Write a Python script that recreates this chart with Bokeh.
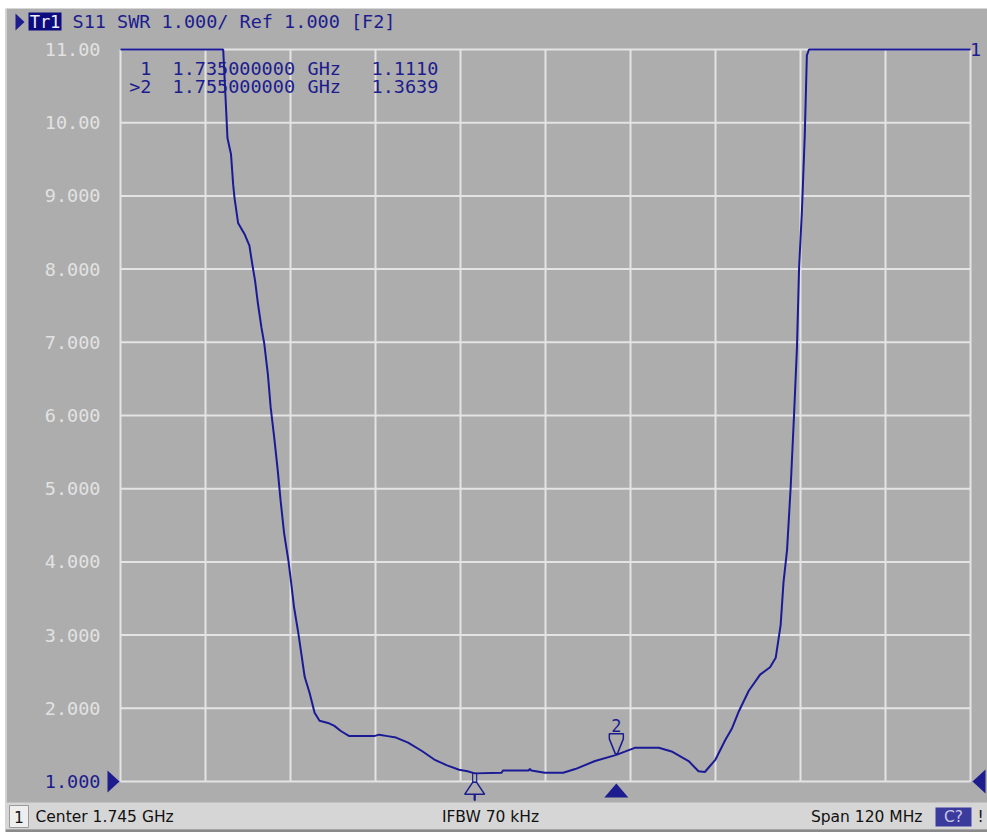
import numpy as np
from bokeh.plotting import figure
from bokeh.models import Range1d, Label, BoxAnnotation, PolyAnnotation
from bokeh.embed import file_html
from bokeh.resources import INLINE

# ---------------- data ----------------
f_start_ghz = 1.685
f_stop_ghz = 1.805
ifbw_khz = 70
y_ref = 1.0
y_top = 11.0

y_ticks = [1, 2, 3, 4, 5, 6, 7, 8, 9, 10, 11]
y_tick_labels = ["1.000", "2.000", "3.000", "4.000", "5.000", "6.000",
                 "7.000", "8.000", "9.000", "10.00", "11.00"]

freq_ghz = [1.6850, 1.6995, 1.6999, 1.7001, 1.7006, 1.7009, 1.7011, 1.7016, 1.7025, 1.7032,
            1.7036, 1.7040, 1.7044, 1.7049, 1.7053, 1.7058, 1.7062, 1.7067, 1.7072, 1.7076,
            1.7081, 1.7087, 1.7091, 1.7095, 1.7101, 1.7106, 1.7110, 1.7117, 1.7124, 1.7131,
            1.7143, 1.7152, 1.7161, 1.7173, 1.7208, 1.7215, 1.7227, 1.7239, 1.7256, 1.7275,
            1.7293, 1.7311, 1.7328, 1.7340, 1.7350, 1.7388, 1.7390, 1.7426, 1.7428, 1.7430,
            1.7449, 1.7475, 1.7492, 1.7520, 1.7550, 1.7576, 1.7610, 1.7628, 1.7652, 1.7666,
            1.7675, 1.7690, 1.7704, 1.7713, 1.7723, 1.7737, 1.7753, 1.7767, 1.7775, 1.7782,
            1.7786, 1.7791, 1.7796, 1.7801, 1.7805, 1.7808, 1.7812, 1.7816, 1.7819, 1.7822,
            1.8050]
swr = [11.0, 11.0, 10.20, 9.79, 9.57, 9.16, 8.97, 8.63, 8.48, 8.32,
       8.07, 7.84, 7.53, 7.20, 6.98, 6.57, 6.11, 5.70, 5.25, 4.84,
       4.39, 4.02, 3.71, 3.38, 3.03, 2.70, 2.43, 2.21, 1.94, 1.83,
       1.80, 1.76, 1.69, 1.62, 1.62, 1.64, 1.62, 1.60, 1.53, 1.42,
       1.30, 1.22, 1.16, 1.14, 1.111, 1.12, 1.15, 1.15, 1.17, 1.15,
       1.12, 1.12, 1.17, 1.28, 1.3639, 1.46, 1.46, 1.41, 1.28, 1.14,
       1.13, 1.30, 1.57, 1.72, 1.96, 2.24, 2.46, 2.56, 2.69, 3.14,
       3.72, 4.16, 5.00, 6.03, 6.93, 8.02, 8.79, 9.82, 10.92, 11.0,
       11.0]

marker_ids = [1, 2]
marker_freq_ghz = [1.735, 1.755]
marker_swr = [1.1110, 1.3639]
active_marker = 2

# ---------------- style / layout ----------------
PANEL = "#ADADAD"
GRID = "#E4E4E4"
TRACE = "#1A1A96"
BLUE = "#1C1C8E"
TICK_TEXT = "#E2E2E2"
STATUS_BG = "#D6D6D6"
MONO = "DejaVu Sans Mono"
SANS = "DejaVu Sans"
MONO_SIZE = "18.5px"

W, H = 987, 832
X0, Y0 = 5, 8                         # white page border left / top
PL, PT, PW, PH = 120, 49, 850, 732    # plot area in page pixels

def fx(px):
    return f_start_ghz + (px - PL) * (f_stop_ghz - f_start_ghz) / PW

def fy(py):
    return y_top - (py - PT) * (y_top - y_ref) / PH

def dx(n):
    return n * (f_stop_ghz - f_start_ghz) / PW

def dy(n):
    return n * (y_top - y_ref) / PH

p = figure(width=W, height=H,
           x_range=Range1d(fx(X0), fx(W)), y_range=Range1d(fy(H), fy(Y0)),
           x_axis_location=None, y_axis_location=None,
           output_backend="svg", toolbar_location=None, tools="",
           min_border_left=X0, min_border_right=0, min_border_top=Y0, min_border_bottom=0,
           background_fill_color=PANEL, border_fill_color="white",
           outline_line_color=None)
p.grid.visible = False

# left light edge line
p.add_layout(BoxAnnotation(left=fx(X0), right=fx(X0 + 1.5), fill_color="#D0D0D0",
                           fill_alpha=1, line_alpha=0))

# ---- grid (through data scales) ----
x_grid = list(np.linspace(f_start_ghz, f_stop_ghz, 11))
p.segment(x0=x_grid, y0=[y_ref] * len(x_grid), x1=x_grid, y1=[y_top] * len(x_grid),
          line_color=GRID, line_width=2)
p.segment(x0=[f_start_ghz] * len(y_ticks), y0=y_ticks, x1=[f_stop_ghz] * len(y_ticks), y1=y_ticks,
          line_color=GRID, line_width=2)

# ---- y tick labels ----
for t, lab in zip(y_ticks, y_tick_labels):
    p.add_layout(Label(x=f_start_ghz - dx(20), y=t, text=lab, text_font=MONO,
                       text_font_size=MONO_SIZE,
                       text_color=BLUE if t == y_ref else TICK_TEXT,
                       text_align="right", text_baseline="middle"))

# ---- trace ----
p.line(freq_ghz, swr, line_color=TRACE, line_width=2)

# reference level triangles
p.add_layout(PolyAnnotation(xs=[f_start_ghz - dx(13), f_start_ghz - dx(1), f_start_ghz - dx(13)],
                            ys=[y_ref + dy(11), y_ref, y_ref - dy(11)],
                            fill_color=BLUE, fill_alpha=1, line_alpha=0))
p.add_layout(PolyAnnotation(xs=[f_stop_ghz + dx(15), f_stop_ghz + dx(2), f_stop_ghz + dx(15)],
                            ys=[y_ref + dy(12), y_ref, y_ref - dy(12)],
                            fill_color=BLUE, fill_alpha=1, line_alpha=0))

# ---- header ----
p.add_layout(PolyAnnotation(xs=[fx(15), fx(24), fx(15)], ys=[fy(13), fy(21.5), fy(30)],
                            fill_color=BLUE, fill_alpha=1, line_alpha=0))
p.add_layout(BoxAnnotation(left=fx(28), right=fx(61), top=fy(12), bottom=fy(30),
                           fill_color="#0C0C80", fill_alpha=1, line_alpha=0))
p.add_layout(Label(x=fx(44.5), y=fy(21), text="Tr1", text_font=MONO, text_font_size="17px",
                   text_color="#EEEEF6", text_align="center", text_baseline="middle"))
p.add_layout(Label(x=fx(72), y=fy(21),
                   text=f"S11 SWR {y_ref:.3f}/ Ref {y_ref:.3f} [F2]",
                   text_font=MONO, text_font_size=MONO_SIZE, text_color=BLUE,
                   text_align="left", text_baseline="middle"))

# ---- marker readout table ----
for i, (mid, mf, mv) in enumerate(zip(marker_ids, marker_freq_ghz, marker_swr)):
    yy = fy(67.5 + 18 * i)
    prefix = ">" if mid == active_marker else ""
    cols = [(151, f"{prefix}{mid}", "right"), (172, f"{mf:.9f}", "left"),
            (307, "GHz", "left"), (371, f"{mv:.4f}", "left")]
    for cx, txt, al in cols:
        p.add_layout(Label(x=fx(cx), y=yy, text=txt, text_font=MONO,
                           text_font_size=MONO_SIZE, text_color=BLUE, text_align=al,
                           text_baseline="middle"))

# trace number at the right end
p.add_layout(Label(x=f_stop_ghz + dx(5), y=swr[-1], text="1", text_font=MONO,
                   text_font_size=MONO_SIZE, text_color=BLUE, text_align="center",
                   text_baseline="middle"))

# ---- marker symbols ----
for mid, mf, mv in zip(marker_ids, marker_freq_ghz, marker_swr):
    if mid == active_marker:
        p.add_layout(PolyAnnotation(xs=[mf - dx(12), mf, mf + dx(12)],
                                    ys=[y_ref - dy(16), y_ref - dy(2), y_ref - dy(16)],
                                    fill_color=BLUE, fill_alpha=1, line_alpha=0))
        p.add_layout(PolyAnnotation(xs=[mf - dx(7), mf + dx(7), mf + dx(7), mf + dx(1), mf - dx(1), mf - dx(7)],
                                    ys=[mv + dy(21), mv + dy(21), mv + dy(16), mv + dy(1), mv + dy(1), mv + dy(16)],
                                    fill_alpha=0, line_color=BLUE, line_alpha=1, line_width=1.5))
        p.add_layout(Label(x=mf, y=mv + dy(29.5), text=str(mid), text_font=MONO,
                           text_font_size="17px", text_color=BLUE, text_align="center",
                           text_baseline="middle"))
    else:
        p.add_layout(PolyAnnotation(xs=[mf - dx(2), mf + dx(2), mf + dx(2), mf - dx(2)],
                                    ys=[mv, mv, mv - dy(9), mv - dy(9)],
                                    fill_alpha=0, line_color=BLUE, line_alpha=1, line_width=1.2))
        p.add_layout(PolyAnnotation(xs=[mf - dx(2), mf + dx(2), mf + dx(10), mf - dx(10)],
                                    ys=[mv - dy(9), mv - dy(9), mv - dy(21), mv - dy(21)],
                                    fill_alpha=0, line_color=BLUE, line_alpha=1, line_width=1.5))
        p.add_layout(PolyAnnotation(xs=[mf - dx(0.6), mf + dx(0.6), mf + dx(0.6), mf - dx(0.6)],
                                    ys=[mv - dy(21), mv - dy(21), mv - dy(27), mv - dy(27)],
                                    fill_color=BLUE, fill_alpha=1, line_color=BLUE,
                                    line_alpha=1, line_width=1))

# ---- status bar ----
center_ghz = (f_start_ghz + f_stop_ghz) / 2
span_mhz = (f_stop_ghz - f_start_ghz) * 1000
SY = 816.5

p.add_layout(BoxAnnotation(top=fy(802), bottom=fy(829), fill_color=STATUS_BG,
                           fill_alpha=1, line_alpha=0))
p.add_layout(BoxAnnotation(top=fy(829), fill_color="#8A8A8A", fill_alpha=1, line_alpha=0))
p.add_layout(BoxAnnotation(left=fx(9), right=fx(28), top=fy(805), bottom=fy(827),
                           fill_color="#EEEEEE", fill_alpha=1, line_color="#9A9A9A",
                           line_alpha=1, line_width=1))
status_items = [(18.5, "1", "center", "#111111"),
                (35, f"Center {center_ghz:.3f} GHz", "left", "#111111"),
                (490, f"IFBW {ifbw_khz} kHz", "center", "#111111"),
                (922, f"Span {span_mhz:.0f} MHz", "right", "#111111"),
                (953, "C?", "center", "#C8C8E4"),
                (980, "!", "center", "#111111")]
p.add_layout(BoxAnnotation(left=fx(935), right=fx(971), top=fy(807), bottom=fy(826),
                           fill_color="#3B3B9E", fill_alpha=1, line_alpha=0))
for sx, txt, al, col in status_items:
    p.add_layout(Label(x=fx(sx), y=fy(SY), text=txt, text_font=SANS,
                       text_font_size="15.5px", text_color=col, text_align=al,
                       text_baseline="middle"))

open("out.html", "w").write(file_html(p, INLINE))
